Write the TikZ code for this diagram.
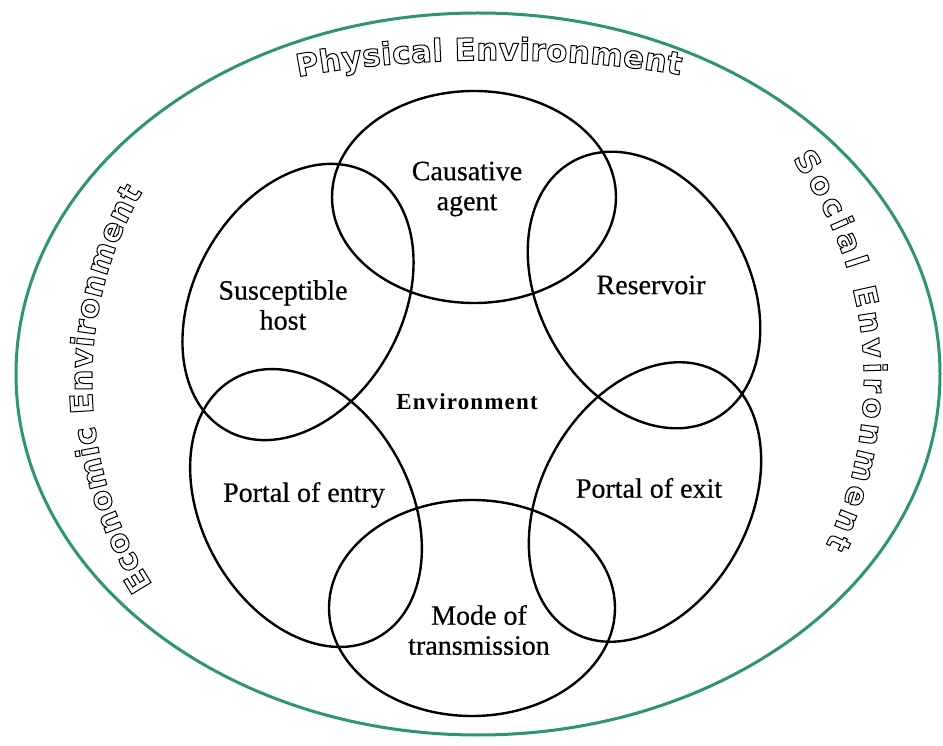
\documentclass[tikz,border=0pt]{standalone}
\usepackage{fontspec}
\setmainfont{Liberation Serif}
\newfontfamily\labelfont{Liberation Serif}[FakeBold=0.5]
\newfontfamily\rimfont{DejaVu Sans}
\usetikzlibrary{decorations.text}

\definecolor{rimgreen}{RGB}{46,150,104}
% hollow letters for the outer ring
\newcommand\hollowon{\special{pdf:literal direct 1 Tr 0.5 w}}
\newcommand\rimstyle{\rimfont\bfseries\fontsize{15.5}{17}\selectfont\hollowon}

\begin{document}
\begin{tikzpicture}[x=0.5pt, y=0.5pt,
        ring/.style={draw=black, line width=1.2pt},
        factor/.style={align=center, inner sep=0pt,
                       font=\labelfont\fontsize{14}{15}\selectfont},
        rim/.style={decorate, decoration={text along path,
                    text align={fit to path}}}]
    \useasboundingbox (0,0) rectangle (943,745);

    % the outer environment
    \draw[rimgreen, line width=1.5pt] (478,371) ellipse [x radius=462, y radius=361];

    % the six links of the chain
    \draw[ring] (474,548) ellipse [x radius=142, y radius=106];
    \draw[ring, rotate around={29:(644,455)}] (644,455) ellipse [x radius=105, y radius=147];
    \draw[ring, rotate around={-29:(645,243)}] (645,243) ellipse [x radius=104, y radius=149];
    \draw[ring] (472,137) ellipse [x radius=143, y radius=108];
    \draw[ring, rotate around={29:(306,237)}] (306,237) ellipse [x radius=104, y radius=148];
    \draw[ring, rotate around={-29:(298,443)}] (298,443) ellipse [x radius=104, y radius=147];

    \node[factor] (agent) at (467,556) {Causative\\agent};
    \node[factor] (reservoir) at (651,460) {Reservoir};
    \node[factor] (exit) at (649,257) {Portal of exit};
    \node[factor] (mode) at (479,115) {Mode of\\transmission};
    \node[factor] (entry) at (304,250) {Portal of entry};
    \node[factor] (host) at (283,440) {Susceptible\\host};
    \node[inner sep=0pt, font={\bfseries\fontsize{11.5}{13}\selectfont\addfontfeatures{LetterSpace=5}}]
        (environment) at (467,343) {Environment};

    % ring texts
    \path[rim, decoration={text={|\rimstyle|Physical Environment}}]
        (298,668) .. controls (410,690) and (570,690) .. (680,670);
    \path[rim, decoration={text={|\rimstyle|Social Environment}}]
        (488,365) ++(36:376) arc[start angle=36, end angle=-26, radius=376];
    \path[rim, decoration={text={|\rimstyle|Economic Environment}}]
        (468,365) ++(213:376) arc[start angle=213, end angle=150, radius=376];
\end{tikzpicture}
\end{document}
